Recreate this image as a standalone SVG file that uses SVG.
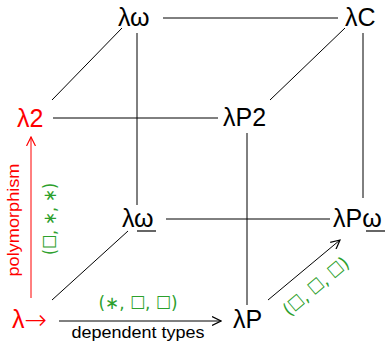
<svg xmlns="http://www.w3.org/2000/svg" width="388" height="344" viewBox="0 0 388 344">
<defs>
<marker id="ah" viewBox="0 0 10 10" refX="9" refY="5" markerWidth="10" markerHeight="10" markerUnits="userSpaceOnUse" orient="auto"><path d="M0,0.5 L9,5 L0,9.5" fill="none" stroke="#000" stroke-width="1.2"/></marker>
<marker id="ahr" viewBox="0 0 10 10" refX="9" refY="5" markerWidth="10" markerHeight="10" markerUnits="userSpaceOnUse" orient="auto"><path d="M0,0.5 L9,5 L0,9.5" fill="none" stroke="#ff0000" stroke-width="1.2"/></marker>
</defs>
<style>
.n{font-family:"Liberation Sans",Arial,sans-serif;font-size:25px;fill:#000}
.r{fill:#ff0000}
.g{font-family:"DejaVu Sans",sans-serif;font-size:18px;fill:#2ca02c;text-anchor:middle}
.l{font-family:"Liberation Sans",Arial,sans-serif;font-size:16px;text-anchor:middle}
.e{stroke:#000;stroke-width:1;fill:none}
.u{stroke:#000;stroke-width:1.2}
.ar{font-family:"DejaVu Sans",sans-serif;font-size:27px;font-weight:300}
</style>
<rect width="388" height="344" fill="#fff"/>
<g id="connectors">
<line class="e" x1="163" y1="18" x2="338" y2="18"/>
<line class="e" x1="137" y1="33" x2="137" y2="205"/>
<line class="e" x1="122" y1="28" x2="52" y2="100"/>
<line class="e" x1="345" y1="28" x2="270" y2="100"/>
<line class="e" x1="363" y1="33" x2="363" y2="198"/>
<line class="e" x1="53" y1="118" x2="218" y2="118"/>
<line class="e" x1="247" y1="133" x2="247" y2="305"/>
<line class="e" x1="166" y1="219" x2="330" y2="219"/>
<line class="e" x1="128" y1="231" x2="52" y2="300"/>
<line class="e" x1="59" y1="321" x2="221" y2="321" marker-end="url(#ah)"/>
<line class="e" x1="268" y1="300" x2="340" y2="240" marker-end="url(#ah)"/>
<line x1="31" y1="298" x2="31" y2="137" stroke="#ff0000" stroke-width="1" marker-end="url(#ahr)"/>
</g>
<g id="n-lambda-arrow"><text class="n r" x="12" y="328">λ<tspan class="ar" dy="1">→</tspan></text></g>
<g id="n-lambdaP"><text class="n" x="233" y="328">λP</text></g>
<g id="n-lambda2"><text class="n r" x="17" y="127">λ2</text></g>
<g id="n-lambdaP2"><text class="n" x="223" y="126">λP2</text></g>
<g id="n-lambdaomega"><text class="n" x="118" y="26">λω</text></g>
<g id="n-lambdaC"><text class="n" x="345" y="26">λC</text></g>
<g id="n-lambdaomega-u"><text class="n" x="122" y="227">λω</text><line class="u" x1="137" y1="231" x2="156" y2="231"/></g>
<g id="n-lambdaPomega-u"><text class="n" x="333" y="227">λPω</text><line class="u" x1="366" y1="231" x2="385" y2="231"/></g>
<g id="labels">
<text class="l r" transform="translate(19,220) rotate(-90)" textLength="113" lengthAdjust="spacingAndGlyphs">polymorphism</text>
<text class="g" transform="translate(56,219) rotate(-90)" textLength="72" lengthAdjust="spacingAndGlyphs">(☐, ∗, ∗)</text>
<text class="g" x="138" y="309" textLength="79" lengthAdjust="spacingAndGlyphs">(∗, ☐, ☐)</text>
<text class="l" x="138" y="338" textLength="133" lengthAdjust="spacingAndGlyphs">dependent types</text>
<text class="g" transform="translate(320,291) rotate(-40)" textLength="80" lengthAdjust="spacingAndGlyphs">(☐, ☐, ☐)</text>
</g>
</svg>
